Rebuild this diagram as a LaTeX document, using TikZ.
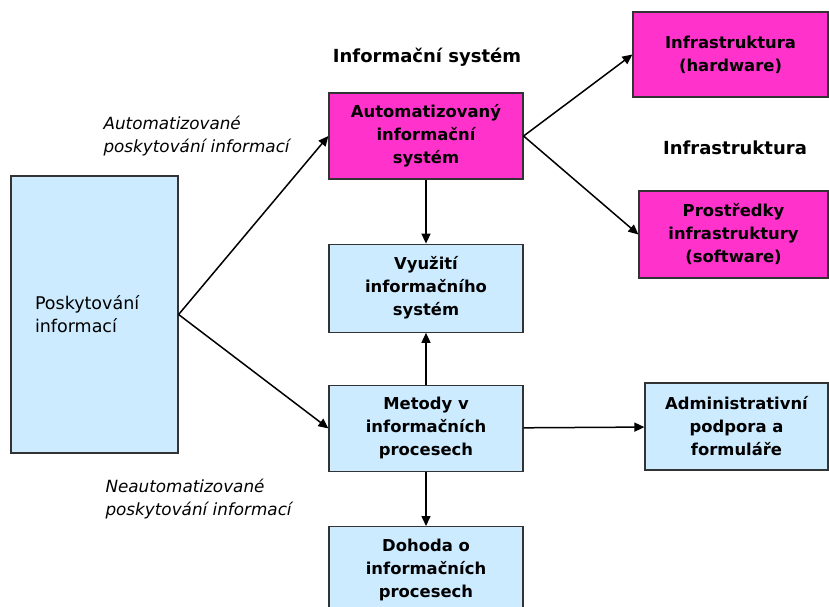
\documentclass[tikz,border=0pt]{standalone}
\usepackage{fontspec}
\setmainfont{DejaVu Sans}
\usepackage{tikz}
\usetikzlibrary{positioning, arrows.meta}

\definecolor{ispink}{HTML}{FF33CC}
\definecolor{isblue}{HTML}{CCEBFF}

\tikzset{
    box/.style={draw=black!80, line width=1.2pt, align=center,
        minimum width=194pt, minimum height=86pt, inner sep=0pt,
        font=\bfseries\fontsize{16.4}{23}\selectfont},
    pinkbox/.style={box, fill=ispink},
    bluebox/.style={box, fill=isblue},
    caption/.style={font=\bfseries\fontsize{18}{20}\selectfont},
    remark/.style={align=left, anchor=west, font=\itshape\fontsize{16.8}{23}\selectfont},
    conn/.style={-{Triangle[length=10pt,width=9pt]}, line width=1.5pt}
}

\begin{document}
\begin{tikzpicture}[x=1pt, y=-1pt]
    \useasboundingbox (0,0) rectangle (829,606);
    \clip (0,0) rectangle (829,606);

    \node[bluebox, minimum width=167pt, minimum height=277pt, align=left,
        text width=119pt, inner xsep=24pt, font=\fontsize{17.5}{23}\selectfont]
        (posk) at (94.5,314.5) {Poskytování\\informací};

    \node[pinkbox] (ais) at (426,136) {Automatizovaný\\informační\\systém};
    \node[bluebox, minimum height=88pt] (vyuz) [below=64pt of ais] {Využití\\informačního\\systém};
    \node[bluebox] (meto) [below=52pt of vyuz] {Metody v\\informačních\\procesech};
    \node[bluebox] (doho) [below=54pt of meto] {Dohoda o\\informačních\\procesech};

    \node[pinkbox, minimum width=195pt, minimum height=85pt] (hw) at (730.5,54.5) {Infrastruktura\\(hardware)};
    \node[pinkbox, minimum width=189pt, minimum height=87pt] (sw) at (733.5,234.5) {Prostředky\\infrastruktury\\(software)};
    \node[bluebox, minimum width=183pt, minimum height=87pt] (adm) at (736.5,426.5) {Administrativní\\podpora a\\formuláře};

    \node[caption] (istitle) at (427,57) {Informační systém};
    \node[caption] (inftitle) at (735,148) {Infrastruktura};
    \node[remark] (autlab) at (100,136) {Automatizované\\poskytování informací};
    \node[remark] (neautlab) at (102,499) {Neautomatizované\\poskytování informací};

    \path[conn]
    (posk.east) edge (ais.west)
                edge (meto.west)
    (ais.east) edge (hw.west)
               edge (sw.west)
    (ais) edge (vyuz)
    (meto) edge (vyuz)
           edge (doho)
           edge (adm)
    ;
\end{tikzpicture}
\end{document}
